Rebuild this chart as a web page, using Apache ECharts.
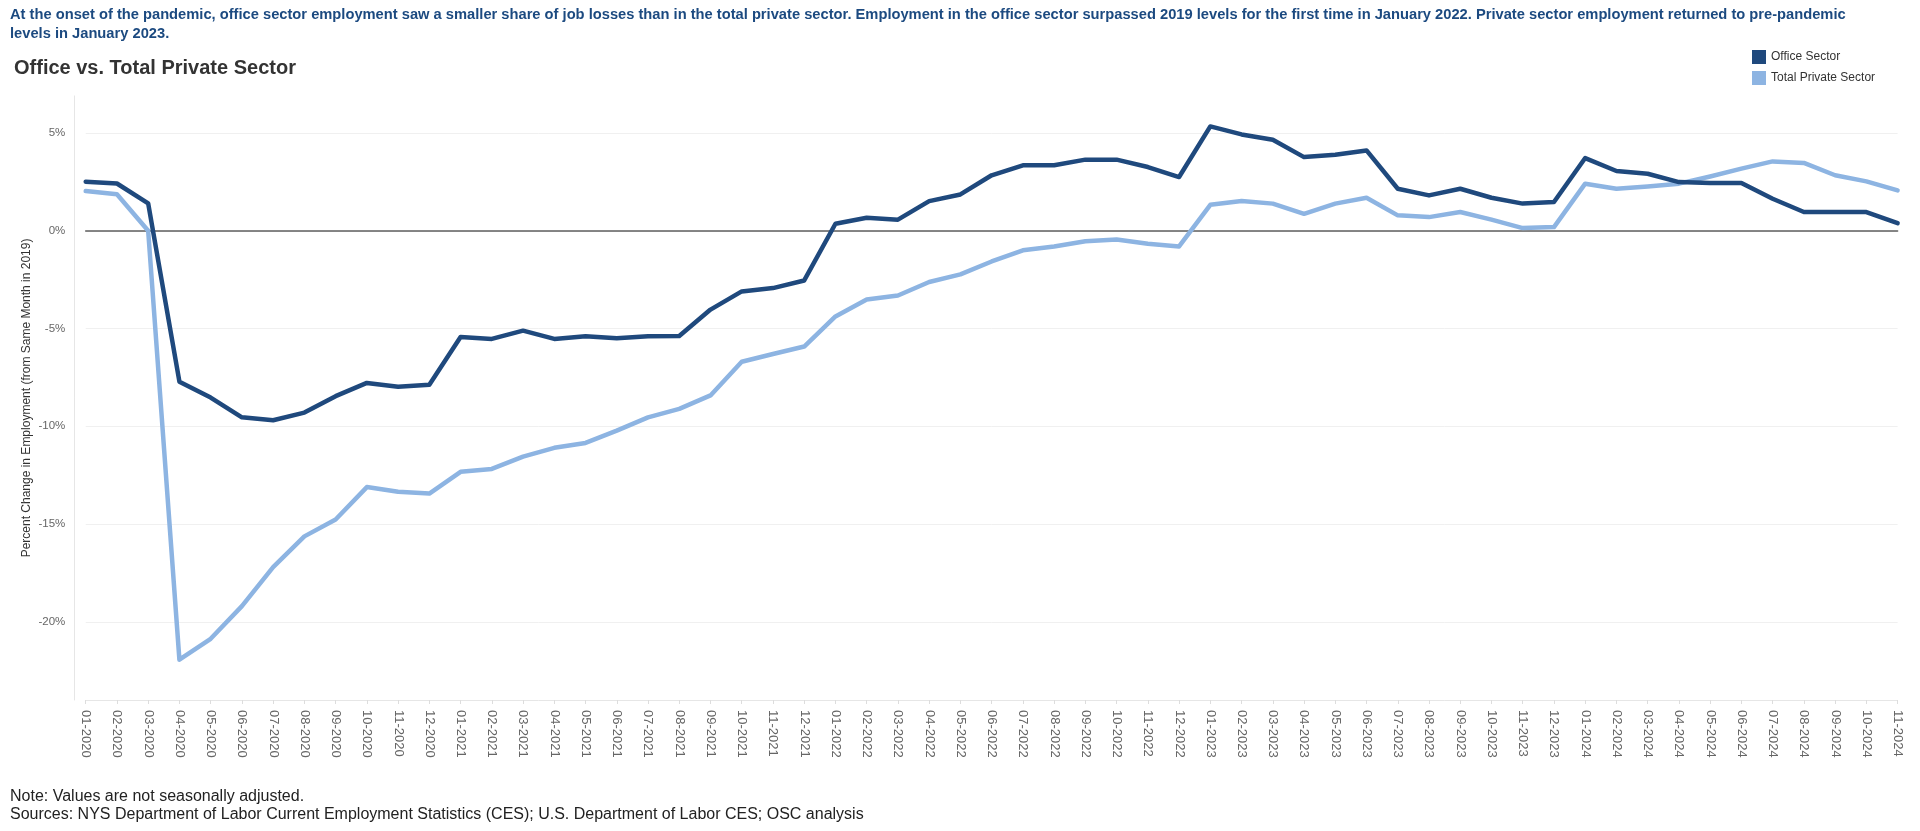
<!DOCTYPE html>
<html>
<head>
<meta charset="utf-8">
<script src="https://cdn.jsdelivr.net/npm/echarts@6/dist/echarts.min.js"></script>
<style>
html, body { margin: 0; padding: 0; background: #fff; }
#chart { width: 1920px; height: 831px; }
</style>
</head>
<body>
<div id="chart"></div>
<script>
const headline = 'At the onset of the pandemic, office sector employment saw a smaller share of job losses than in the total private sector. Employment in the office sector surpassed 2019 levels for the first time in January 2022. Private sector employment returned to pre-pandemic\nlevels in January 2023.';
const chartTitle = 'Office vs. Total Private Sector';
const notes = 'Note: Values are not seasonally adjusted.\nSources: NYS Department of Labor Current Employment Statistics (CES); U.S. Department of Labor CES; OSC analysis';
const yAxisName = 'Percent Change in Employment (from Same Month in 2019)';

const categories = [
  '01-2020','02-2020','03-2020','04-2020','05-2020','06-2020','07-2020','08-2020','09-2020','10-2020','11-2020','12-2020',
  '01-2021','02-2021','03-2021','04-2021','05-2021','06-2021','07-2021','08-2021','09-2021','10-2021','11-2021','12-2021',
  '01-2022','02-2022','03-2022','04-2022','05-2022','06-2022','07-2022','08-2022','09-2022','10-2022','11-2022','12-2022',
  '01-2023','02-2023','03-2023','04-2023','05-2023','06-2023','07-2023','08-2023','09-2023','10-2023','11-2023','12-2023',
  '01-2024','02-2024','03-2024','04-2024','05-2024','06-2024','07-2024','08-2024','09-2024','10-2024','11-2024'
];

const officeSector = [
  2.51, 2.42, 1.4, -7.72, -8.53, -9.54, -9.69, -9.3, -8.46, -7.78, -7.98, -7.88,
  -5.43, -5.53, -5.11, -5.53, -5.4, -5.5, -5.4, -5.38, -4.03, -3.1, -2.93, -2.54,
  0.36, 0.67, 0.57, 1.52, 1.86, 2.84, 3.35, 3.35, 3.64, 3.64, 3.26, 2.75,
  5.34, 4.93, 4.66, 3.77, 3.89, 4.11, 2.15, 1.81, 2.15, 1.69, 1.39, 1.47,
  3.72, 3.06, 2.92, 2.49, 2.44, 2.45, 1.64, 0.96, 0.96, 0.96, 0.39
];

const totalPrivate = [
  2.03, 1.87, 0, -21.94, -20.87, -19.2, -17.2, -15.63, -14.77, -13.11, -13.35, -13.44,
  -12.33, -12.18, -11.55, -11.1, -10.85, -10.22, -9.54, -9.11, -8.42, -6.7, -6.3, -5.92,
  -4.38, -3.51, -3.31, -2.62, -2.23, -1.57, -1.0, -0.8, -0.53, -0.44, -0.66, -0.8,
  1.33, 1.52, 1.39, 0.87, 1.39, 1.69, 0.79, 0.7, 0.96, 0.57, 0.14, 0.19,
  2.41, 2.15, 2.27, 2.41, 2.78, 3.18, 3.55, 3.47, 2.84, 2.53, 2.07
];

const yTicks = [-20, -15, -10, -5, 0, 5];
const yMin = -24;
const yMax = 6.9;

const FONT = "'Liberation Sans', Arial, sans-serif";

const chart = echarts.init(document.getElementById('chart'), null, { renderer: 'canvas' });

chart.setOption({
  backgroundColor: '#ffffff',
  animation: false,
  textStyle: { fontFamily: FONT },
  title: [
    {
      text: headline, left: 10, top: 5, padding: 0,
      textStyle: { fontFamily: FONT, fontSize: 14.7, fontWeight: 'bold', color: '#1c4a80', lineHeight: 19 }
    },
    {
      text: chartTitle, left: 14, top: 58, padding: 0,
      textStyle: { fontFamily: FONT, fontSize: 20, fontWeight: 'bold', color: '#333333' }
    },
    {
      text: notes, left: 10, top: 787, padding: 0,
      textStyle: { fontFamily: FONT, fontSize: 16, fontWeight: 'normal', color: '#222222', lineHeight: 18.5 }
    }
  ],
  legend: {
    orient: 'vertical',
    left: 1752, top: 50, padding: 0,
    itemWidth: 14, itemHeight: 14, itemGap: 7,
    icon: 'rect',
    textStyle: { fontFamily: FONT, fontSize: 12, color: '#333333' },
    data: ['Office Sector', 'Total Private Sector']
  },
  grid: { left: 85.7, right: 22.4, top: 95.9, bottom: 131, containLabel: false },
  xAxis: [
    {
      type: 'category', data: categories, boundaryGap: false, position: 'bottom',
      axisLine: { show: true, onZero: false, lineStyle: { color: '#e6e6e6', width: 1 } },
      axisTick: { show: true, length: 4, lineStyle: { color: '#dddddd' } },
      axisLabel: { interval: 0, rotate: -90, margin: 10, fontSize: 13, color: '#666666', fontFamily: FONT },
      splitLine: { show: false }
    },
    {
      type: 'category', data: categories, boundaryGap: false, position: 'bottom',
      axisLine: { show: true, onZero: true, lineStyle: { color: '#5f5f5f', width: 1.5 } },
      axisTick: { show: false },
      axisLabel: { show: false },
      splitLine: { show: false }
    }
  ],
  yAxis: {
    type: 'value', min: yMin, max: yMax, offset: 11.4,
    name: yAxisName, nameLocation: 'middle', nameGap: 42, nameMoveOverlap: false,
    nameTextStyle: { fontFamily: FONT, fontSize: 12, color: '#333333' },
    axisLine: { show: true, lineStyle: { color: '#e6e6e6' } },
    axisTick: { show: false, customValues: yTicks },
    axisLabel: { customValues: yTicks, formatter: v => v + '%', fontSize: 11.5, color: '#666666', margin: 9, fontFamily: FONT },
    splitLine: { show: true, lineStyle: { color: '#f0f0f0', width: 1 } }
  },
  series: [
    {
      name: 'Office Sector', type: 'line', data: officeSector, xAxisIndex: 0,
      showSymbol: false, symbol: 'none', z: 4,
      color: '#1f497d',
      lineStyle: { width: 4.5, color: '#1f497d', join: 'round', cap: 'round' }
    },
    {
      name: 'Total Private Sector', type: 'line', data: totalPrivate, xAxisIndex: 0,
      showSymbol: false, symbol: 'none', z: 3,
      color: '#8db4e2',
      lineStyle: { width: 4.5, color: '#8db4e2', join: 'round', cap: 'round' }
    }
  ]
});
</script>
</body>
</html>
